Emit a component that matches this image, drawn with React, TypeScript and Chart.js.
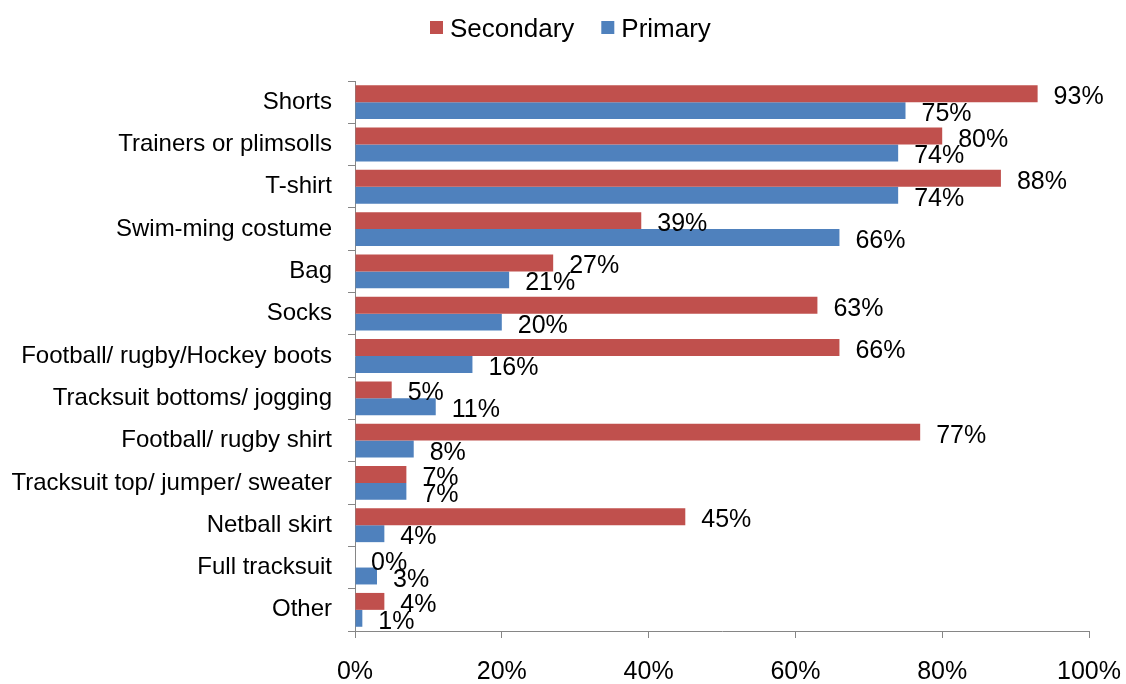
import { useEffect, useRef } from 'react';
import { Chart, registerables } from 'chart.js';

Chart.register(...registerables);

const categories = [
  'Shorts',
  'Trainers or plimsolls',
  'T-shirt',
  'Swim-ming costume',
  'Bag',
  'Socks',
  'Football/ rugby/Hockey boots',
  'Tracksuit bottoms/ jogging',
  'Football/ rugby shirt',
  'Tracksuit top/ jumper/ sweater',
  'Netball skirt',
  'Full tracksuit',
  'Other',
];
const secondary = [93, 80, 88, 39, 27, 63, 66, 5, 77, 7, 45, 0, 4];
const primary = [75, 74, 74, 66, 21, 20, 16, 11, 8, 7, 4, 3, 1];
const seriesNames = ['Secondary', 'Primary'];
const seriesColors = ['#C0504D', '#4F81BD'];
const xMin = 0;
const xMax = 100;
const xStep = 20;

const FONT = '"Liberation Sans", Arial, sans-serif';
const AXIS_GRAY = '#868686';

export default function App() {
  const ref = useRef<HTMLCanvasElement>(null);

  useEffect(() => {
    document.body.style.margin = '0';
    if (!ref.current) return;

    const valueLabels = {
      id: 'valueLabels',
      afterDatasetsDraw(chart: any) {
        const ctx = chart.ctx;
        ctx.save();
        ctx.font = `25px ${FONT}`;
        ctx.fillStyle = '#000';
        ctx.textAlign = 'left';
        ctx.textBaseline = 'alphabetic';
        chart.data.datasets.forEach((ds: any, di: number) => {
          const meta = chart.getDatasetMeta(di);
          meta.data.forEach((bar: any, i: number) => {
            ctx.fillText(`${ds.data[i]}%`, bar.x + 16, bar.y + 10.5);
          });
        });
        ctx.restore();
      },
    };

    const customLegend = {
      id: 'customLegend',
      afterDraw(chart: any) {
        const ctx = chart.ctx;
        ctx.save();
        ctx.font = `26px ${FONT}`;
        ctx.textBaseline = 'alphabetic';
        ctx.textAlign = 'left';
        const box = 13;
        const gapBoxText = 7;
        const gapItems = 27;
        const widths = seriesNames.map((n) => ctx.measureText(n).width);
        let x = 430;
        seriesNames.forEach((n, i) => {
          ctx.fillStyle = seriesColors[i];
          ctx.fillRect(x, 21, box, box);
          x += box + gapBoxText;
          ctx.fillStyle = '#000';
          ctx.fillText(n, x, 36.5);
          x += widths[i] + gapItems;
        });
        ctx.restore();
      },
    };

    const chart = new Chart(ref.current, {
      type: 'bar',
      data: {
        labels: categories,
        datasets: [
          {
            label: seriesNames[0],
            data: secondary,
            backgroundColor: seriesColors[0],
            categoryPercentage: 0.8,
            barPercentage: 1.0,
          },
          {
            label: seriesNames[1],
            data: primary,
            backgroundColor: seriesColors[1],
            categoryPercentage: 0.8,
            barPercentage: 1.0,
          },
        ],
      },
      options: {
        indexAxis: 'y',
        animation: false,
        responsive: true,
        maintainAspectRatio: false,
        layout: { padding: { top: 81, right: 37, bottom: 0, left: 0 } },
        plugins: {
          legend: { display: false },
          tooltip: { enabled: false },
        },
        scales: {
          x: {
            type: 'linear',
            min: xMin,
            max: xMax,
            ticks: {
              stepSize: xStep,
              callback: (v: any) => `${v}%`,
              color: '#000',
              font: { family: FONT, size: 25 },
              padding: 19,
              maxRotation: 0,
            },
            grid: {
              drawOnChartArea: false,
              drawTicks: true,
              tickLength: 7,
              color: AXIS_GRAY,
            },
            border: { color: AXIS_GRAY, width: 1 },
            afterFit: (scale: any) => {
              scale.height = 53;
              scale.paddingRight = 0;
              scale.paddingLeft = 0;
            },
          },
          y: {
            type: 'category',
            ticks: {
              color: '#000',
              font: { family: FONT, size: 24 },
              padding: 16,
              autoSkip: false,
            },
            grid: {
              offset: true,
              drawOnChartArea: false,
              drawTicks: true,
              tickLength: 7,
              color: AXIS_GRAY,
            },
            border: { color: AXIS_GRAY, width: 1 },
            afterFit: (scale: any) => {
              scale.width = 355;
              scale.paddingTop = 0;
              scale.paddingBottom = 0;
            },
          },
        },
      },
      plugins: [valueLabels, customLegend],
    });

    return () => chart.destroy();
  }, []);

  return (
    <div style={{ width: 1126, height: 684, position: 'relative' }}>
      <canvas ref={ref} />
    </div>
  );
}
